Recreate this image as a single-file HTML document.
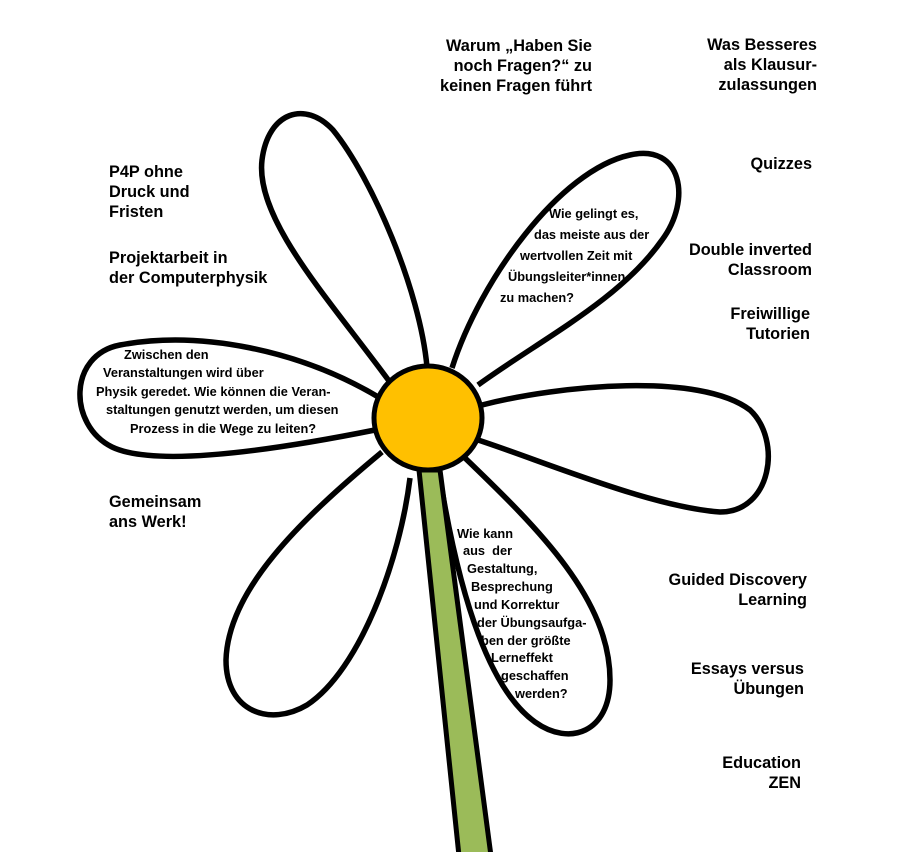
<!DOCTYPE html>
<html><head><meta charset="utf-8"><style>
html,body{margin:0;padding:0;background:#fff;}
svg{display:block;}
.l{font-family:"Liberation Sans",sans-serif;font-weight:bold;font-size:16.3px;fill:#000;}
.p{font-family:"Liberation Sans",sans-serif;font-weight:bold;font-size:12.8px;fill:#000;}
</style></head><body>
<svg width="921" height="852" viewBox="0 0 921 852" xmlns="http://www.w3.org/2000/svg">
<g fill="#fff" stroke="#000" stroke-width="5.5" stroke-linejoin="round">
<path d="M 392,385 C 330,300 255,220 262,160 C 268,112 305,100 333,130 C 372,178 420,290 427,367"/>
<path d="M 452,368 C 480,280 560,170 630,155 C 682,143 692,200 662,240 C 620,300 540,340 478,385"/>
<path d="M 482,405 C 560,385 700,372 750,410 C 782,440 772,512 720,512 C 650,507 540,460 478,440"/>
<path d="M 380,398 C 300,350 200,330 120,345 C 68,355 68,425 112,447 C 160,470 300,445 375,430"/>
<path d="M 382,452 C 300,520 228,590 226,660 C 226,712 270,727 307,705 C 360,670 400,560 410,478"/>
<path d="M 465,458 C 540,530 610,600 610,680 C 610,732 570,747 535,722 C 490,690 460,600 440,478"/>
</g>
<polygon points="419,470 440,470 491,856 459,856" fill="#9bbb59" stroke="#000" stroke-width="5"/>
<ellipse cx="428" cy="418" rx="54" ry="52" fill="#ffc000" stroke="#000" stroke-width="5"/>

<g class="l" text-anchor="end">
<text x="592" y="51">Warum „Haben Sie</text>
<text x="592" y="71">noch Fragen?“ zu</text>
<text x="592" y="91">keinen Fragen führt</text>
<text x="817" y="50">Was Besseres</text>
<text x="817" y="70">als Klausur-</text>
<text x="817" y="90">zulassungen</text>
<text x="812" y="169">Quizzes</text>
<text x="812" y="255">Double inverted</text>
<text x="812" y="275">Classroom</text>
<text x="810" y="319">Freiwillige</text>
<text x="810" y="339">Tutorien</text>
<text x="807" y="585">Guided Discovery</text>
<text x="807" y="605">Learning</text>
<text x="804" y="674">Essays versus</text>
<text x="804" y="694">Übungen</text>
<text x="801" y="768">Education</text>
<text x="801" y="788">ZEN</text>
</g>
<g class="l">
<text x="109" y="177">P4P ohne</text>
<text x="109" y="197">Druck und</text>
<text x="109" y="217">Fristen</text>
<text x="109" y="263">Projektarbeit in</text>
<text x="109" y="283">der Computerphysik</text>
<text x="109" y="507">Gemeinsam</text>
<text x="109" y="527">ans Werk!</text>
</g>
<g class="p">
<text x="549" y="218">Wie gelingt es,</text>
<text x="534" y="239">das meiste aus der</text>
<text x="520" y="260">wertvollen Zeit mit</text>
<text x="508" y="281">Übungsleiter*innen</text>
<text x="500" y="302">zu machen?</text>
<text x="124" y="359">Zwischen den</text>
<text x="103" y="377">Veranstaltungen wird über</text>
<text x="96" y="396">Physik geredet. Wie können die Veran-</text>
<text x="106" y="414">staltungen genutzt werden, um diesen</text>
<text x="130" y="433">Prozess in die Wege zu leiten?</text>
<text x="457" y="538">Wie kann</text>
<text x="463" y="555" xml:space="preserve">aus  der</text>
<text x="467" y="573">Gestaltung,</text>
<text x="471" y="591">Besprechung</text>
<text x="474" y="609">und Korrektur</text>
<text x="477" y="627">der Übungsaufga-</text>
<text x="481" y="645">ben der größte</text>
<text x="491" y="662">Lerneffekt</text>
<text x="501" y="680">geschaffen</text>
<text x="515" y="698">werden?</text>
</g>
</svg>
</body></html>
